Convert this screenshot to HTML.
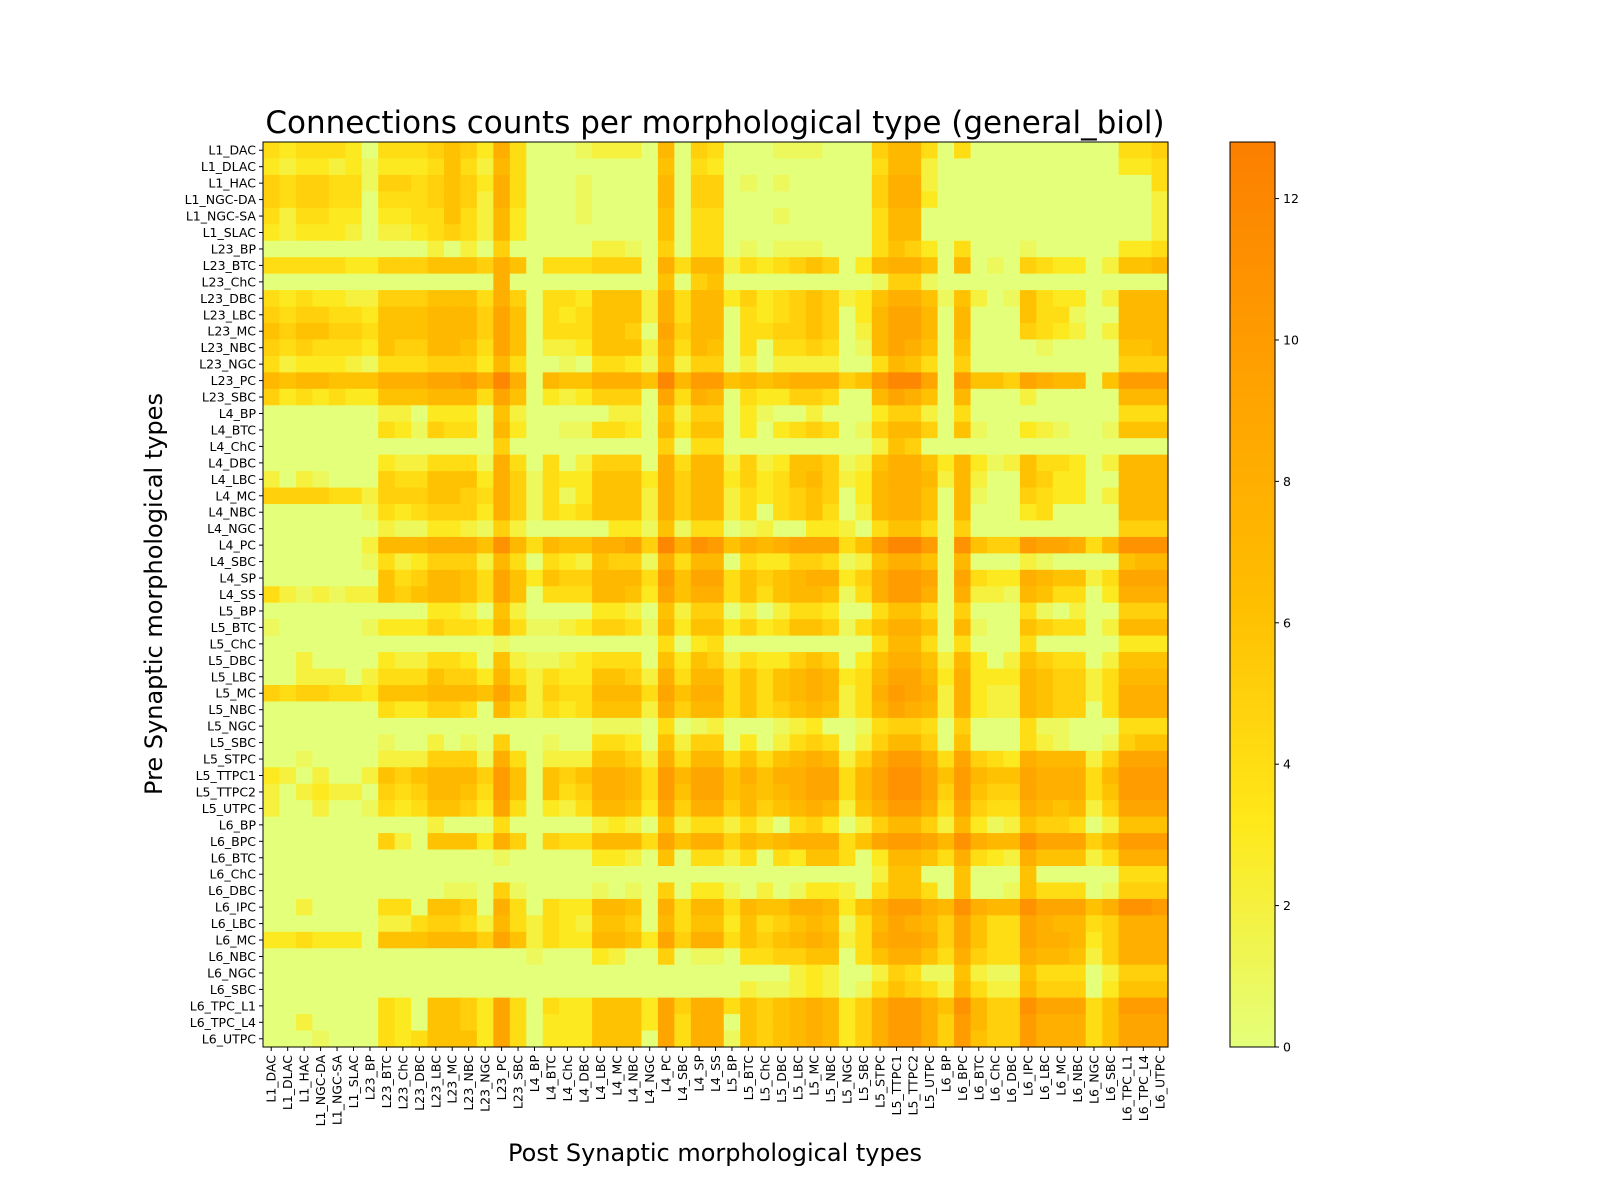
<!DOCTYPE html>
<html><head><meta charset="utf-8"><style>
body{margin:0;background:#fff;}
svg{display:block;font-family:"DejaVu Sans","Liberation Sans",sans-serif;}
</style></head><body>
<svg id="chart" width="1600" height="1200" viewBox="0 0 1600 1200" xmlns="http://www.w3.org/2000/svg">
<rect width="1600" height="1200" fill="#fff"/>
<text x="715" y="133" font-size="31" text-anchor="middle">Connections counts per morphological type (general_biol)</text>
<text transform="translate(162,594) rotate(-90)" font-size="24" text-anchor="middle">Pre Synaptic morphological types</text>
<text x="715" y="1161" font-size="24" text-anchor="middle">Post Synaptic morphological types</text>
<g id="cells"></g>
<g id="yticks"></g>
<g id="xticks"></g>
<rect x="263" y="142" width="905" height="905" fill="none" stroke="#000" stroke-width="1"/>
<defs><linearGradient id="cbg" x1="0" y1="1" x2="0" y2="0">
<stop offset="0" stop-color="#e4ff7a"/><stop offset="0.25" stop-color="#ffe81a"/><stop offset="0.5" stop-color="#ffbd00"/><stop offset="0.75" stop-color="#ffa000"/><stop offset="1" stop-color="#fc7f00"/>
</linearGradient></defs>
<rect x="1230" y="142" width="45" height="905" fill="url(#cbg)" stroke="#000" stroke-width="1"/>
<g id="cbticks"></g>
</svg>
<script>
const labels = ["L1_DAC","L1_DLAC","L1_HAC","L1_NGC-DA","L1_NGC-SA","L1_SLAC","L23_BP","L23_BTC","L23_ChC","L23_DBC","L23_LBC","L23_MC","L23_NBC","L23_NGC","L23_PC","L23_SBC","L4_BP","L4_BTC","L4_ChC","L4_DBC","L4_LBC","L4_MC","L4_NBC","L4_NGC","L4_PC","L4_SBC","L4_SP","L4_SS","L5_BP","L5_BTC","L5_ChC","L5_DBC","L5_LBC","L5_MC","L5_NBC","L5_NGC","L5_SBC","L5_STPC","L5_TTPC1","L5_TTPC2","L5_UTPC","L6_BP","L6_BPC","L6_BTC","L6_ChC","L6_DBC","L6_IPC","L6_LBC","L6_MC","L6_NBC","L6_NGC","L6_SBC","L6_TPC_L1","L6_TPC_L4","L6_UTPC"];
// each row: one hex digit per post-synaptic column (value 0..12)
const rows = [
"434443"+"0444565384"+"000122207054"+"0001110005774"+"04000000000445",
"323323"+"1333464274"+"000000006043"+"0000000004772"+"00000000000334",
"545544"+"1554565384"+"000100007055"+"0101000005882"+"00000000000004",
"545544"+"0444565284"+"000100007055"+"0000000005883"+"00000000000002",
"424433"+"0334464273"+"000100006044"+"0001000004770"+"00000000000002",
"323332"+"0223454273"+"000000006044"+"0000000004770"+"00000000000002",
"000000"+"0000202050"+"000022105044"+"0101110004653"+"04000100000334",
"444443"+"3555666586"+"044455508477"+"2434565037886"+"07010543302667",
"000000"+"0000000080"+"000000006056"+"0000000001551"+"00000000000000",
"434332"+"2555666485"+"044366628477"+"3534565236886"+"16201643302777",
"545544"+"3666777596"+"043466628477"+"0434565037997"+"07000644100777",
"656655"+"4666777596"+"044466509577"+"0445565027997"+"07000543202777",
"545444"+"3655776496"+"022366628476"+"0404454017986"+"06000010000667",
"423332"+"1444555374"+"001044317255"+"0202222004764"+"05000000000555",
"767766"+"688899a8c8"+"07668886c7aa"+"676788856acc9"+"0a665987706aaa",
"534343"+"3666777496"+"032355509487"+"0433554007986"+"07000200000777",
"000000"+"0220333062"+"000002206255"+"0310020003552"+"04000000000444",
"000000"+"0431544073"+"001144307366"+"0303454015775"+"06100321001666",
"000000"+"0000000050"+"000000005044"+"0000000002650"+"00000000000000",
"000000"+"0322444184"+"040255508477"+"2523665126886"+"37312644302777",
"202100"+"0544666385"+"143366638577"+"3534675237887"+"27200653300777",
"555544"+"2555665485"+"141366628577"+"2434565037886"+"07100543302777",
"000000"+"1434555385"+"143466628577"+"2404564027886"+"07000340000777",
"000000"+"0211332152"+"000003316144"+"0120033204664"+"05000000000555",
"000000"+"27778886b7"+"47668895c8ba"+"687899946acca"+"0b655a99847bbb",
"000000"+"1423555274"+"043265518477"+"0433554126886"+"07000210000677",
"000000"+"0645776496"+"36557774a699"+"4656788358aa9"+"09433876624999",
"421212"+"2656776496"+"044477639688"+"4646776148aa8"+"08221764403888",
"000000"+"0000332062"+"000033206255"+"0202443004664"+"05000410200555",
"100000"+"1333544374"+"112355417366"+"3534665146886"+"07100654402777",
"000000"+"0000000010"+"000000004034"+"0000000004774"+"04000400000333",
"002000"+"0322443062"+"112344406365"+"2433565036886"+"27302654402666",
"002220"+"2444655374"+"243366528477"+"4646787347997"+"38333765524777",
"545544"+"3666777696"+"254477749688"+"4646787248a98"+"28322765524888",
"000000"+"0433554074"+"243466628577"+"4645676247987"+"28322765504888",
"000000"+"0000000000"+"000011104012"+"0001230014554"+"05000411000444",
"000000"+"0100201050"+"010044306255"+"0302454025775"+"06000421001566",
"001000"+"0222555184"+"022266528477"+"4646787258aa8"+"49543877725999",
"320200"+"26567775a6"+"06568874a799"+"6868899479bb9"+"6a766988847aaa",
"202322"+"05457764a6"+"06458874a699"+"6767899479bb9"+"5a655988846aaa",
"200200"+"1434665394"+"032477639588"+"5756787268aa8"+"49544876725999",
"000000"+"0000200040"+"000023206244"+"2420453025775"+"27312655402666",
"000000"+"0520666385"+"054477749688"+"5767888469aa9"+"7b877b99957aaa",
"000000"+"0000000010"+"000033206044"+"2404366403776"+"48432866624888",
"000000"+"0000000000"+"000000000000"+"0000000002660"+"06000600000444",
"000000"+"0000011051"+"000010105033"+"1020133204664"+"06001644401555",
"002000"+"0440665084"+"043377608477"+"4766887368aa8"+"7b877b99968bba",
"000000"+"0224554274"+"243266507466"+"3645676147987"+"59644987745888",
"334333"+"0666777596"+"243377639588"+"4656787248998"+"59644988735888",
"000000"+"0000000000"+"100032005011"+"0445566046886"+"48544877625888",
"000000"+"0000000000"+"000000000000"+"0000232002541"+"16211644402555",
"000000"+"0000000000"+"000000000000"+"0211232014654"+"27422755503666",
"000000"+"0430665394"+"043366639588"+"4656787358aa8"+"6b755b99946aaa",
"002000"+"0430665394"+"033366639488"+"0656787358aa8"+"5a755a88846999",
"000100"+"0434666394"+"033366609488"+"1656787358aa8"+"5a655a88846999"
];
const cbTicks = [0,2,4,6,8,10,12];
const vmax = 12.8;

const NS="http://www.w3.org/2000/svg";
const X0=263,Y0=142,W=905,H=905,N=labels.length,cw=W/N,ch=H/N;
const xPos=i=>X0+i*cw, yPos=i=>Y0+i*ch;
const cbY=v=>1047-v/vmax*905;
const stops=[[0,[228,255,122]],[0.25,[255,232,26]],[0.5,[255,189,0]],[0.75,[255,160,0]],[1,[252,127,0]]];
function color(v){let t=Math.max(0,Math.min(1,v/vmax));for(let k=1;k<stops.length;k++){if(t<=stops[k][0]){const a=stops[k-1],b=stops[k];const f=(t-a[0])/(b[0]-a[0]);const c=a[1].map((x,j)=>Math.round(x+(b[1][j]-x)*f));return `rgb(${c.join(',')})`;}}return 'rgb(252,127,0)';}
function mk(tag,attrs,parent){const e=document.createElementNS(NS,tag);for(const k in attrs)e.setAttribute(k,attrs[k]);parent.appendChild(e);return e;}
const cells=document.getElementById('cells');
rows.forEach((row,r)=>{for(let c=0;c<N;c++){const v=parseInt(row[c],16)||0;
const el=mk('rect',{x:xPos(c).toFixed(2),y:yPos(r).toFixed(2),width:(cw+0.6).toFixed(2),height:(ch+0.6).toFixed(2),fill:color(v)},cells);

}});
const yt=document.getElementById('yticks'),xt=document.getElementById('xticks');
labels.forEach((lab,i)=>{const y=yPos(i)+ch/2;
const tk=mk('line',{x1:X0-4,x2:X0,y1:y,y2:y,stroke:'#000'},yt);


const t=mk('text',{x:X0-7,y:y+4.5,'font-size':'12.5','text-anchor':'end'},yt);t.textContent=lab;


const x=xPos(i)+cw/2;
const tk2=mk('line',{x1:x,x2:x,y1:Y0+H,y2:Y0+H+4,stroke:'#000'},xt);


const t2=mk('text',{transform:`translate(${x+4.5},${Y0+H+8}) rotate(-90)`,'font-size':'12.5','text-anchor':'end'},xt);t2.textContent=lab;

});
const cb=document.getElementById('cbticks');
cbTicks.forEach(v=>{const y=cbY(v);
const l=mk('line',{x1:1275,x2:1279,y1:y,y2:y,stroke:'#000'},cb);


const t=mk('text',{x:1283,y:y+4.5,'font-size':'12.5'},cb);t.textContent=v;

});
</script>
</body></html>
